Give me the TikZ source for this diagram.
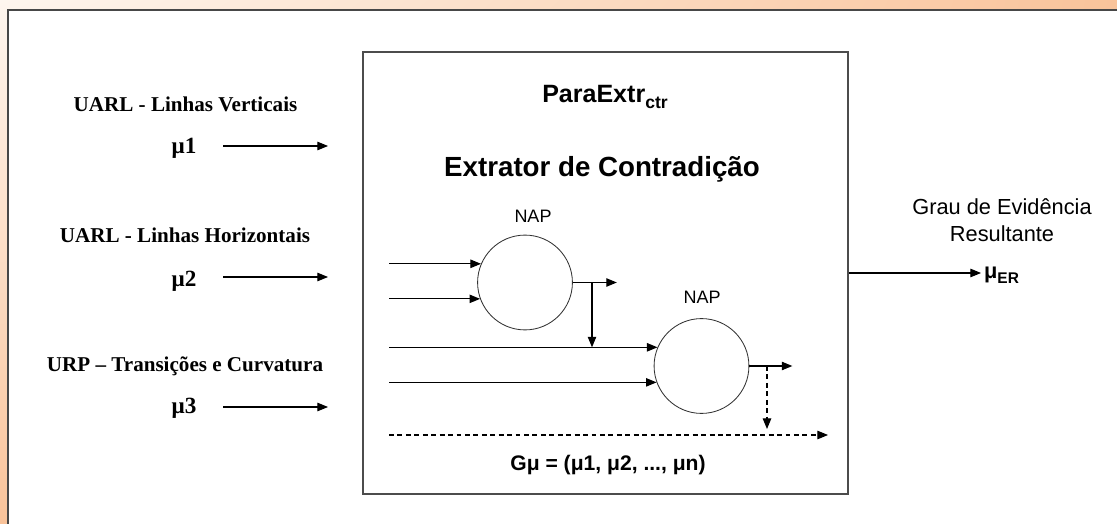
\documentclass[tikz,border=0pt]{standalone}
\usepackage{fontspec}
\setmainfont{Liberation Serif}
\setsansfont{Liberation Sans}
\usetikzlibrary{arrows.meta, positioning, shadings}
\definecolor{frameOrange}{HTML}{F9C39A}
\definecolor{frameLight}{HTML}{FEF6EF}
\definecolor{frameLine}{HTML}{474747}

\begin{document}
\begin{tikzpicture}[
			x=0.025cm, y=-0.025cm,
			extractor/.style={
				draw=black!70, line width=1pt, inner sep=0pt,
				minimum width=12.125cm, minimum height=11.05cm
			},
			napnode/.style={
				circle, draw=black!80, line width=0.6pt, inner sep=0pt,
				minimum size=2.37cm
			},
			inlabel/.style={font=\bfseries\fontsize{15}{18}\selectfont, inner sep=0pt},
			mulabel/.style={font=\bfseries\fontsize{16.5}{19}\selectfont, inner sep=0pt},
			naplabel/.style={font=\sffamily\fontsize{12.8}{15}\selectfont, inner sep=0pt},
			arrow/.style={-{Triangle[length=7.5pt,width=6pt]}, line width=0.75pt},
			dasharrow/.style={arrow, dash pattern=on 3.5pt off 2.5pt}
			]
			
			\useasboundingbox (0,0) rectangle (1117,524);
			\shade[upper left=frameLight, upper right=frameOrange,
			lower left=frameOrange, lower right=frameOrange] (0,0) rectangle (1117,524);
			\fill[white] (8,10) rectangle (1117,524);
			\draw[frameLine, line width=1.4pt] (8,524) -- (8,10) -- (1117,10);
			
			\node[inlabel, anchor=base] (uarlv) at (185.5,111.7) {UARL - Linhas Verticais};
			\node[mulabel, anchor=base] (mu1) at (184,154) {μ1};
			\node[inlabel, anchor=base] (uarlh) at (185,243) {UARL - Linhas Horizontais};
			\node[mulabel, anchor=base] (mu2) at (184,286) {μ2};
			\node[inlabel, anchor=base] (urp) at (185,371.7) {URP – Transições e Curvatura};
			\node[mulabel, anchor=base] (mu3) at (184,413) {μ3};
			
			\coordinate (a1) at (223,146);
			\coordinate (b1) at (328,146);
			\coordinate (a2) at (223,277);
			\coordinate (b2) at (328,277);
			\coordinate (a3) at (223,407);
			\coordinate (b3) at (328,407);
			\draw[arrow] (a1) -- (b1);
			\draw[arrow] (a2) -- (b2);
			\draw[arrow] (a3) -- (b3);
			
			\node[extractor] (extr) at (605.5,273) {};
			\node[font=\sffamily\bfseries\fontsize{17.8}{21}\selectfont, anchor=base] (title) at (605,103)
			{ParaExtr\raisebox{-0.45ex}{\fontsize{12.5}{14}\selectfont ctr}};
			\node[font=\sffamily\bfseries\fontsize{19.7}{23}\selectfont, anchor=base] (subtitle) at (602,177)
			{Extrator de Contradição};
			
			\node[napnode] (nap1) at (525,282.5) {};
			\node[napnode] (nap2) at (701.5,366) {};
			\node[naplabel, anchor=base] (lnap1) at (533,223) {NAP};
			\node[naplabel, anchor=base] (lnap2) at (702,304) {NAP};
			
			\coordinate (inx) at (389,0);
			\coordinate (j1) at (592,0);
			\coordinate (j2) at (767,0);
			\coordinate (dstop) at (767,429);
			\coordinate (gs) at (389,435);
			\coordinate (ge) at (828,435);
			
			\draw[arrow] (nap1.157 -| inx) -- (nap1.157);
			\draw[arrow] (nap1.200 -| inx) -- (nap1.200);
			\draw[arrow] (nap1.east) -- ++(44,0) coordinate (o1);
			\draw[arrow] (nap1.east -| j1) -- (nap2.157 -| j1);
			\draw[arrow] (nap2.157 -| inx) -- (nap2.157);
			\draw[arrow] (nap2.200 -| inx) -- (nap2.200);
			\draw[arrow] (nap2.east) -- ++(43,0) coordinate (o2);
			\draw[dasharrow] (nap2.east -| j2) -- (dstop);
			\draw[dasharrow] (gs) -- (ge);
			
			\node[font=\sffamily\bfseries\fontsize{15}{18}\selectfont, anchor=base] (gmu) at (608,470)
			{Gμ = (μ1, μ2, ..., μn)};
			
			\node[font=\sffamily\fontsize{15.5}{19}\selectfont, align=center] (grau) at (1002,220.5)
			{Grau de Evidência\\Resultante};
			\node[font=\sffamily\bfseries\fontsize{15.5}{18}\selectfont, anchor=base west, inner sep=2pt] (muer) at (981,278)
			{μ\raisebox{-0.5ex}{\fontsize{11}{13}\selectfont ER}};
			\draw[arrow] (extr.east) -- (extr.east -| muer.west);
			
		\end{tikzpicture}
\end{document}
